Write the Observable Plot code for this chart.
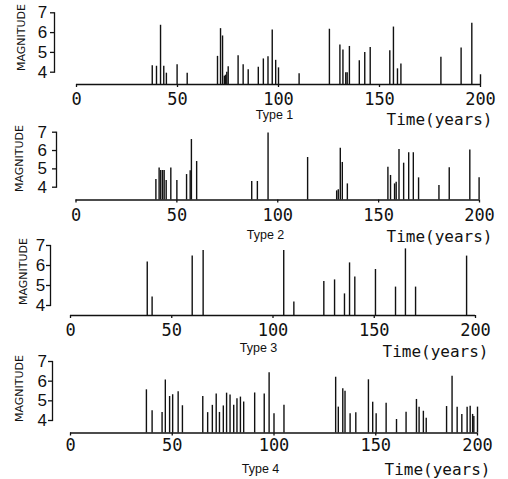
<!DOCTYPE html>
<html><head><meta charset="utf-8">
<script src="https://cdn.jsdelivr.net/npm/d3@7"></script>
<script src="https://cdn.jsdelivr.net/npm/@observablehq/plot@0.6"></script>
<style>
body{margin:0;background:#fff;}
#wrap{position:relative;width:508px;height:479px;overflow:hidden;background:#fff;}
#wrap svg{position:absolute;left:0;overflow:visible;}
</style></head><body><div id="wrap"></div>
<script>
const xTicks = [0, 50, 100, 150, 200];
const yTicks = [4, 5, 6, 7];
const typeLabels = ["Type 1", "Type 2", "Type 3", "Type 4"];
const xLabel = "Time(years)";
const yLabel = "MAGNITUDE";

const type1Years = [37.5,39.6,41.6,43.2,44.5,49.8,54.8,69.8,71.3,72.3,73.2,73.8,74.4,75.1,80.0,82.5,85.0,90.0,92.5,94.8,96.9,98.6,100.0,110.2,125.2,130.4,131.9,133.3,134.0,135.1,140.0,142.7,145.4,155.1,156.9,158.9,160.6,180.4,190.4,195.7,200.0];
const type1Mags  = [4.33,4.3,6.37,4.3,3.95,4.37,3.95,4.8,6.2,5.83,3.8,3.85,4.0,4.27,4.83,4.37,4.13,4.25,4.67,4.78,6.13,4.6,4.22,3.92,6.17,5.37,5.12,3.97,3.97,5.3,4.58,5.0,5.25,5.08,6.28,4.17,4.42,4.75,5.22,6.47,3.87];

const type2Years = [39.6,41.2,42.0,42.9,43.7,44.7,47.0,50.0,54.8,56.6,57.2,59.8,87.1,89.9,95.2,114.8,129.2,130.0,131.0,132.0,134.5,154.6,155.9,157.9,158.7,160.1,162.4,164.9,167.2,169.8,179.9,185.0,195.2,199.8];
const type2Mags  = [4.42,5.05,4.91,4.91,4.91,4.37,5.05,4.37,4.69,4.9,6.6,5.4,4.31,4.31,6.95,5.62,3.8,3.86,6.12,5.35,4.18,5.09,4.64,4.18,4.27,6.05,5.31,5.88,5.88,4.51,4.09,5.06,6.03,4.51];

const type3Years = [37.9,40.3,60.1,65.5,105.3,110.3,125.1,130.4,135.3,137.8,140.4,150.6,160.5,165.4,170.4,195.6];
const type3Mags  = [6.17,4.42,6.47,6.75,6.75,4.17,5.2,5.28,4.58,6.13,5.42,5.8,4.92,6.83,4.92,6.47];

const type4Years = [37.3,40.1,45.0,46.6,48.7,50.2,52.9,55.0,65.0,67.4,69.7,71.6,73.2,75.1,76.7,78.4,80.2,81.8,83.5,85.1,90.5,95.2,97.6,100.0,104.9,130.3,131.6,133.8,134.9,137.4,140.2,146.4,148.5,150.2,155.1,160.2,164.9,170.0,171.3,173.4,174.8,184.8,187.5,190.0,192.3,194.9,196.4,197.6,198.2,200.0];
const type4Mags  = [5.56,4.5,4.41,6.06,5.22,5.31,5.46,4.75,5.22,4.4,4.77,5.35,4.41,4.74,5.39,5.3,4.78,5.1,5.19,4.94,5.4,5.35,6.43,4.34,4.77,6.2,4.68,5.61,5.49,4.34,4.39,6.07,4.93,4.34,4.88,4.05,4.42,5.07,4.68,4.47,4.12,4.71,6.25,4.68,4.31,4.68,4.73,4.31,4.2,4.68];

const series = [
  [type1Years, type1Mags],
  [type2Years, type2Mags],
  [type3Years, type3Mags],
  [type4Years, type4Mags]
];

// pixel layout of each panel (page coordinates)
const layouts = [
  {top:0,   h:118, y7:12.3, y4:71.7, base:84,    axis:54, x0:76,   x200:480, xpad:5.5, ypad:3.3, magX:21, magY:37,  typeX:274, typeY:114, timeR:492, timeY:119},
  {top:118, h:120, y7:131.7,y4:186.7,base:199.5, axis:56, x0:75.5, x200:479, xpad:6.0, ypad:5.6, magX:19, magY:158, typeX:265, typeY:234, timeR:492, timeY:236},
  {top:238, h:118, y7:245,  y4:305,  base:315,   axis:50, x0:70,   x200:475, xpad:5.3, ypad:1.3, magX:23, magY:271, typeX:258, typeY:347, timeR:488, timeY:351},
  {top:356, h:123, y7:361,  y4:420,  base:432.5, axis:52, x0:70,   x200:477, xpad:3.3, ypad:1.6, magX:19, magY:388, typeX:260, typeY:468, timeR:490, timeY:469}
];

const ink = "#111";
const wrap = document.getElementById("wrap");

layouts.forEach((L, i) => {
  const [years, mags] = series[i];
  const data = years.map((t, k) => ({t, m: mags[k]}));
  const mt = L.y7 - L.top;
  const mb = L.h - (L.y4 - L.top);
  const unit = (L.y4 - L.y7) / 3;
  const baseMag = 4 - (L.base - L.y4) / unit;
  const mr = 10;
  const svg = Plot.plot({
    width: 508,
    height: L.h,
    marginTop: mt,
    marginBottom: mb,
    marginLeft: L.axis,
    marginRight: mr,
    style: {background: "transparent", overflow: "visible", color: ink},
    x: {domain: [0, 200], range: [L.x0, L.x200]},
    y: {domain: [4, 7]},
    marks: [
      Plot.frame({anchor: "left", stroke: ink, strokeWidth: 1.3}),
      Plot.axisY({ticks: yTicks, tickFormat: d => String(d), tickSize: 4, tickPadding: L.ypad, fontSize: 17, fontFamily: "Liberation Sans", label: null, strokeWidth: 1.3}),
      Plot.axisX({ticks: xTicks, tickFormat: d => String(d), tickSize: 3, tickPadding: L.xpad, dy: L.base - L.y4, fontSize: 17, fontFamily: "DejaVu Sans Mono", label: null, strokeWidth: 1.3}),
      Plot.ruleY([baseMag], {x1: 0, x2: 200, stroke: ink, strokeWidth: 1.7}),
      Plot.ruleX(data, {x: "t", y1: baseMag, y2: "m", stroke: ink, strokeWidth: 1.4}),
      Plot.text([yLabel], {frameAnchor: "top-left", dx: L.magX - L.axis, dy: L.magY - L.y7, rotate: -90, textAnchor: "middle", lineAnchor: "middle", fontSize: 11, fontFamily: "DejaVu Sans", fill: ink}),
      Plot.text([typeLabels[i]], {frameAnchor: "top-left", dx: L.typeX - L.axis, dy: L.typeY - L.y7, textAnchor: "middle", lineAnchor: "middle", fontSize: 12.5, fontFamily: "Liberation Sans", fill: ink}),
      Plot.text([xLabel], {frameAnchor: "top-right", dx: L.timeR - (508 - mr), dy: L.timeY - L.y7, textAnchor: "end", lineAnchor: "middle", fontSize: 16, fontFamily: "DejaVu Sans Mono", letterSpacing: 0.6, fill: ink})
    ]
  });
  svg.style.top = L.top + "px";
  wrap.appendChild(svg);
});
</script>
</body></html>
